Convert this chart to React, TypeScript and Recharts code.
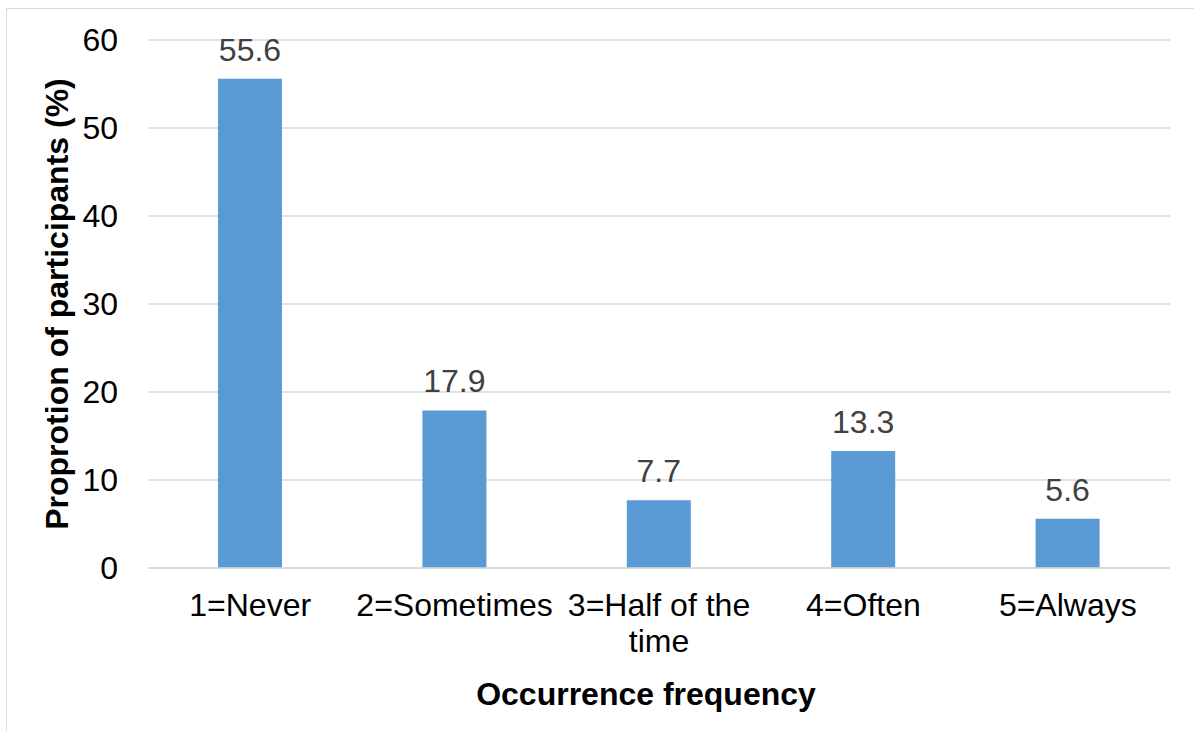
import React from 'react'
import { BarChart, Bar, XAxis, YAxis, CartesianGrid, LabelList, Label } from 'recharts'

// Share of participants by how often the event occurs (5-point scale).
const categories = ['1=Never', '2=Sometimes', '3=Half of the time', '4=Often', '5=Always']
const shares = [55.6, 17.9, 7.7, 13.3, 5.6]
const yTicks = [0, 10, 20, 30, 40, 50, 60]

// Long category names are broken over two lines under the axis.
const tickLines: Record<string, string[]> = {
  '3=Half of the time': ['3=Half of the', 'time'],
}

const FONT = '"Liberation Sans", Arial, sans-serif'
const BAR_BLUE = '#5B9BD5'
const GRID = '#D9D9D9'

const data = categories.map((name, i) => ({ name, share: shares[i] }))

function CategoryTick({ x, y, payload }: { x?: number; y?: number; payload?: { value: string } }) {
  const value = payload?.value ?? ''
  const lines = tickLines[value] ?? [value]
  return (
    <text x={x} y={y} textAnchor="middle" fill="#000" fontSize={32} fontFamily={FONT}>
      {lines.map((line, i) => (
        <tspan key={i} x={x} dy={i === 0 ? 48 : 36}>{line}</tspan>
      ))}
    </text>
  )
}

export default function App() {
  return (
    <div style={{ position: 'absolute', left: 0, top: 0, width: 1194, height: 731, overflow: 'hidden', background: '#fff' }}>
      <div style={{ position: 'absolute', left: 6, top: 8, width: 1200, height: 740, border: `1.5px solid ${GRID}` }} />
      <div style={{ position: 'absolute', left: 0, top: 0 }}>
        <BarChart
          width={1194}
          height={731}
          data={data}
          margin={{ top: 40, right: 24, bottom: 0, left: 0 }}
        >
          <CartesianGrid vertical={false} stroke={GRID} strokeWidth={1.5} />
          <XAxis
            dataKey="name"
            height={163}
            axisLine={{ stroke: GRID, strokeWidth: 1.5 }}
            tickLine={false}
            tickSize={0}
            tickMargin={0}
            interval={0}
            tick={<CategoryTick />}
          >
            <Label
              value="Occurrence frequency"
              position="insideBottom"
              offset={26}
              dx={-13}
              fill="#000"
              fontSize={32}
              fontWeight="bold"
              fontFamily={FONT}
            />
          </XAxis>
          <YAxis
            width={148}
            domain={[0, 60]}
            ticks={yTicks}
            axisLine={false}
            tickLine={false}
            tickSize={0}
            tickMargin={30}
            tick={{ fill: '#000', fontSize: 32, fontFamily: FONT }}
          >
            <Label
              value="Proprotion of participants (%)"
              position="insideLeft"
              angle={-90}
              offset={57}
              fill="#000"
              fontSize={32}
              fontWeight="bold"
              fontFamily={FONT}
              style={{ textAnchor: 'middle' }}
            />
          </YAxis>
          <Bar dataKey="share" fill={BAR_BLUE} barSize={64} isAnimationActive={false}>
            <LabelList
              dataKey="share"
              position="top"
              offset={18}
              fill="#404040"
              fontSize={32}
              fontFamily={FONT}
            />
          </Bar>
        </BarChart>
      </div>
    </div>
  )
}
